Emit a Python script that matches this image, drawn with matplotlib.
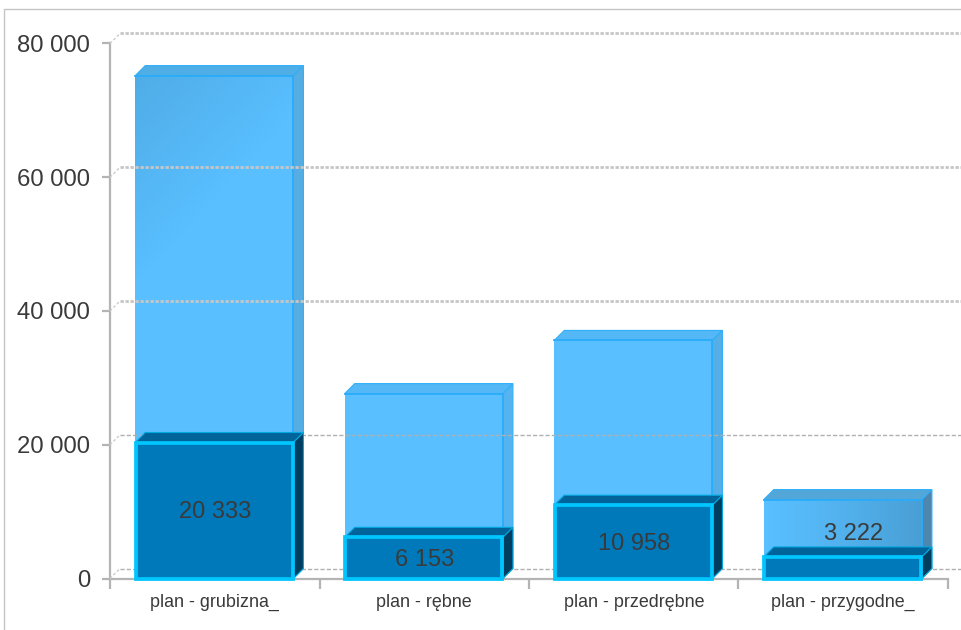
# -*- coding: utf-8 -*-
import numpy as np
import matplotlib
matplotlib.use('Agg')
import matplotlib.pyplot as plt
from matplotlib.lines import Line2D

categories = ['plan - grubizna_', 'plan - rębne', 'plan - przedrębne', 'plan - przygodne_']
plan_values = [75200, 27650, 35600, 11800]
done_values = [20333, 6153, 10958, 3222]
y_ticks = [0, 20000, 40000, 60000, 80000]

W, H = 962, 630
plt.rcParams['font.family'] = ['Liberation Sans', 'DejaVu Sans']

fig = plt.figure(figsize=(W / 100, H / 100), dpi=100)
ax = fig.add_axes([110 / W, 1 - 578.5 / H, 838 / W, 535 / H])
ax.set_xlim(-0.5, 3.5)
ax.set_ylim(0, 80000)
ax.patch.set_alpha(0)

# depth of the fake 3d boxes, 10 px each way
dx = 10 / 209.5
dy = 10 / 535 * 80000
width = 0.755
x = np.arange(len(categories)) - 0.002

light_front = '#59BFFF'
light_top = ['#4FAEE6', '#55B8F6', '#55B8F6', '#52A6D8']
light_side = ['#55ADE3', '#55B4F0', '#55AEE6', '#4F86AE']
text_color = '#3A3A3A'


def box_sides(xc, top, top_color, side_color, edge, z):
    l, r = xc - width / 2, xc + width / 2
    ax.fill([l, r, r + dx, l + dx], [top, top, top + dy, top + dy],
            color=top_color, ec=edge, lw=0.8, zorder=z, clip_on=False)
    ax.fill([r, r + dx, r + dx, r], [0, dy, top + dy, top],
            color=side_color, ec=edge, lw=0.8, zorder=z, clip_on=False)


def shade(xc, top, alpha_img):
    # dark overlay on the front of a light box
    l, r = xc - width / 2, xc + width / 2
    rgba = np.zeros(alpha_img.shape + (4,))
    rgba[..., :3] = (0.2, 0.45, 0.6)
    rgba[..., 3] = alpha_img
    ax.imshow(rgba, extent=[l, r, 0, top], aspect='auto', origin='upper',
              zorder=2.1, interpolation='bilinear')


# light boxes (plan)
for i in range(len(x)):
    box_sides(x[i], plan_values[i], light_top[i], light_side[i], '#2FB0FA', 2)
ax.bar(x, plan_values, width, color=light_front, linewidth=0, zorder=2)
for i in range(len(x)):
    l, r = x[i] - width / 2, x[i] + width / 2
    ax.plot([l, r, r], [plan_values[i], plan_values[i], 0], color='#2AACFA',
            lw=1.3, zorder=2.2, solid_joinstyle='miter')

# corner shading on first and last box
v, u = np.mgrid[0:1:60j, 0:1:60j]
shade(x[0], plan_values[0], 0.24 * np.clip(1 - (u * 0.55 + v * 1.6) * 1.5, 0, 1))
shade(x[3], plan_values[3], 0.42 * u ** 1.2)

# back grid, with the slanted bit from the axis
for i, t in enumerate(y_ticks):
    if t >= 40000:
        ax.plot([-0.5 + dx, 3.56], [t + dy, t + dy], color='#C6C6C6', lw=2,
                ls=(0, (1.2, 0.6)), zorder=3, clip_on=False)
    else:
        ax.plot([-0.5 + dx, 3.56], [t + dy, t + dy], color='#B0B0B0', lw=1,
                ls=(0, (3, 1.5)), zorder=3, clip_on=False)
    ax.plot([-0.5, -0.5 + dx], [t, t + dy], color='#CCCCCC', lw=1,
            ls=(0, (2, 1.5)), zorder=3, clip_on=False)

# dark boxes (done)
for i in range(len(x)):
    box_sides(x[i], done_values[i], '#00639A', '#003D5E', '#00A8E0', 4)
ax.bar(x, done_values, width - 1.5 / 209.5, color='#0079BA', edgecolor='#00C6FF',
       linewidth=2.7, zorder=4.5, clip_on=False)

for i in range(len(x)):
    label = '{:,}'.format(done_values[i]).replace(',', ' ')
    if done_values[i] < 5000:
        ax.text(x[i] + dx + 0.002, done_values[i] + 3360, label, ha='center', va='center',
                fontsize=17, color=text_color, zorder=6)
    else:
        ax.text(x[i] + 0.002, done_values[i] / 2 - 280, label, ha='center', va='center',
                fontsize=17, color=text_color, zorder=6)

# axes
for s in ['top', 'right']:
    ax.spines[s].set_visible(False)
for s in ['left', 'bottom']:
    ax.spines[s].set_color('#B4B4B4')
    ax.spines[s].set_linewidth(1.6)
    ax.spines[s].set_zorder(1)

ax.set_yticks(y_ticks)
ax.set_yticklabels(['{:,}'.format(t).replace(',', ' ') for t in y_ticks],
                   fontsize=17.2, color=text_color)
ax.tick_params(axis='y', length=5.8, width=1.6, color='#B4B4B4', pad=8.5)
ax.set_xticks(np.arange(-0.5, 4, 1))
ax.set_xticklabels([])
ax.tick_params(axis='x', length=7, width=1.6, color='#B4B4B4')
ax.set_xticks(np.arange(len(categories)), minor=True)
ax.set_xticklabels(categories, minor=True, fontsize=12.9, color=text_color)
ax.tick_params(axis='x', which='minor', length=0, pad=20.5)
for lab in ax.get_xticklabels(minor=True):
    lab.set_verticalalignment('baseline')
ax.set_xlim(-0.5, 3.5)
ax.set_ylim(0, 80000)

# outer frame of the chart
fig.add_artist(Line2D([3.5 / W, 3.5 / W, 1], [0, 1 - 8.5 / H, 1 - 8.5 / H],
                      color='#C4C4C4', lw=1))

fig.savefig('out.png', dpi=100)
